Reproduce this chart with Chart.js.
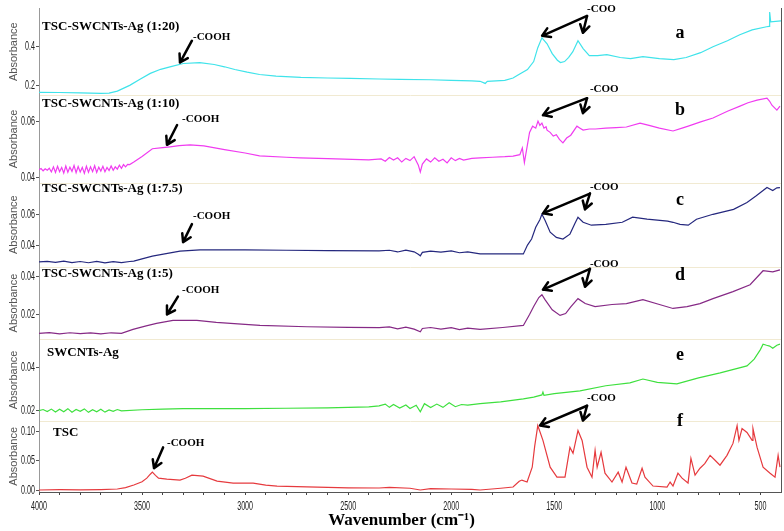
<!DOCTYPE html>
<html>
<head>
<meta charset="utf-8">
<script src="https://cdn.jsdelivr.net/npm/chart.js@4.4.0/dist/chart.umd.min.js"></script>
<style>
  html, body { margin: 0; padding: 0; background: #fff; }
  #wrap { width: 784px; height: 531px; }
</style>
</head>
<body>
<div id="wrap"><canvas id="myChart"></canvas></div>
<script>
// wavenumber (cm-1), absorbance pairs
var specA = [[4000,0.164],[3900,0.163],[3800,0.161],[3700,0.159],[3660,0.160],[3620,0.170],[3560,0.200],[3510,0.232],[3460,0.262],[3410,0.283],[3360,0.297],[3300,0.313],[3220,0.318],[3150,0.308],[3100,0.296],[3050,0.282],[2990,0.268],[2930,0.256],[2850,0.248],[2730,0.241],[2600,0.238],[2490,0.236],[2350,0.233],[2250,0.231],[2100,0.229],[2000,0.226],[1900,0.223],[1860,0.221],[1835,0.210],[1825,0.221],[1740,0.226],[1700,0.238],[1680,0.251],[1630,0.282],[1600,0.323],[1580,0.395],[1560,0.446],[1535,0.415],[1510,0.364],[1485,0.330],[1470,0.318],[1450,0.323],[1430,0.345],[1410,0.374],[1385,0.431],[1360,0.390],[1330,0.354],[1290,0.354],[1245,0.359],[1180,0.344],[1130,0.338],[1070,0.349],[990,0.338],[920,0.333],[860,0.344],[790,0.369],[730,0.400],[660,0.431],[600,0.462],[540,0.487],[470,0.503],[458,0.505],[455,0.579],[450,0.528],[400,0.533]];

var specB = [[4000,0.0428],[3990,0.0432],[3980,0.0424],[3970,0.0431],[3960,0.0426],[3950,0.0433],[3940,0.0420],[3930,0.0438],[3920,0.0418],[3910,0.0440],[3900,0.0421],[3890,0.0436],[3880,0.0416],[3870,0.0441],[3860,0.0419],[3850,0.0437],[3840,0.0422],[3830,0.0443],[3820,0.0417],[3810,0.0439],[3800,0.0420],[3790,0.0436],[3780,0.0415],[3770,0.0440],[3760,0.0419],[3750,0.0438],[3740,0.0421],[3730,0.0442],[3720,0.0418],[3710,0.0437],[3700,0.0423],[3690,0.0440],[3680,0.0421],[3670,0.0436],[3660,0.0425],[3650,0.0441],[3640,0.0426],[3630,0.0438],[3620,0.0430],[3610,0.0444],[3600,0.0433],[3590,0.0446],[3580,0.0438],[3570,0.0447],[3560,0.0446],[3540,0.0455],[3500,0.0475],[3450,0.0502],[3400,0.0506],[3364,0.0509],[3320,0.0513],[3267,0.0516],[3200,0.0512],[3100,0.0499],[3000,0.0487],[2930,0.0477],[2800,0.0472],[2734,0.0470],[2600,0.0467],[2400,0.0463],[2340,0.0466],[2320,0.0458],[2300,0.0471],[2280,0.0462],[2260,0.0470],[2240,0.0455],[2220,0.0468],[2200,0.0460],[2180,0.0474],[2160,0.0445],[2150,0.0420],[2140,0.0448],[2120,0.0466],[2100,0.0455],[2080,0.0470],[2060,0.0458],[2040,0.0465],[2020,0.0452],[2000,0.0470],[1980,0.0460],[1960,0.0468],[1940,0.0462],[1900,0.0468],[1860,0.0470],[1800,0.0472],[1740,0.0474],[1700,0.0476],[1667,0.0481],[1655,0.0505],[1645,0.0453],[1620,0.0560],[1605,0.0582],[1590,0.0575],[1579,0.0600],[1570,0.0585],[1560,0.0593],[1550,0.0575],[1540,0.0580],[1535,0.0568],[1520,0.0560],[1505,0.0547],[1490,0.0552],[1475,0.0535],[1458,0.0523],[1440,0.0540],[1420,0.0550],[1390,0.0582],[1375,0.0575],[1360,0.0568],[1330,0.0572],[1300,0.0572],[1250,0.0575],[1200,0.0577],[1150,0.0579],[1084,0.0593],[1040,0.0585],[990,0.0575],[924,0.0565],[880,0.0575],[850,0.0582],[790,0.0597],[730,0.0611],[660,0.0635],[599,0.0653],[560,0.0665],[516,0.0674],[468,0.0681],[455,0.0670],[444,0.0656],[420,0.0639],[405,0.0653]];

var specC = [[4000,0.0290],[3960,0.0294],[3920,0.0287],[3880,0.0295],[3840,0.0286],[3800,0.0293],[3760,0.0285],[3720,0.0294],[3680,0.0284],[3640,0.0292],[3600,0.0286],[3560,0.0293],[3540,0.0295],[3500,0.0310],[3450,0.0328],[3390,0.0342],[3316,0.0361],[3219,0.0368],[3000,0.0368],[2800,0.0366],[2600,0.0364],[2350,0.0362],[2300,0.0366],[2260,0.0355],[2220,0.0367],[2180,0.0356],[2160,0.0340],[2150,0.0330],[2140,0.0352],[2100,0.0360],[2050,0.0354],[2000,0.0362],[1960,0.0350],[1920,0.0356],[1860,0.0342],[1800,0.0342],[1700,0.0342],[1650,0.0342],[1630,0.0400],[1610,0.0439],[1590,0.0516],[1570,0.0565],[1560,0.0600],[1545,0.0561],[1520,0.0484],[1490,0.0450],[1458,0.0439],[1424,0.0471],[1400,0.0540],[1385,0.0581],[1360,0.0548],[1320,0.0529],[1250,0.0535],[1170,0.0548],[1120,0.0581],[1050,0.0568],[950,0.0555],[924,0.0548],[890,0.0535],[850,0.0529],[810,0.0568],[730,0.0600],[630,0.0632],[565,0.0677],[520,0.0720],[468,0.0774],[440,0.0755],[420,0.0772],[405,0.0774]];

var specD = [[4000,0.0100],[3950,0.0104],[3900,0.0097],[3850,0.0103],[3800,0.0098],[3750,0.0102],[3700,0.0097],[3650,0.0103],[3600,0.0100],[3544,0.0121],[3480,0.0140],[3430,0.0153],[3350,0.0169],[3234,0.0169],[3140,0.0158],[3000,0.0148],[2928,0.0142],[2700,0.0135],[2500,0.0132],[2350,0.0130],[2300,0.0134],[2260,0.0124],[2220,0.0133],[2180,0.0122],[2150,0.0108],[2140,0.0126],[2100,0.0131],[2050,0.0122],[2000,0.0130],[1960,0.0120],[1920,0.0128],[1860,0.0121],[1750,0.0131],[1650,0.0142],[1620,0.0200],[1600,0.0242],[1575,0.0290],[1560,0.0305],[1545,0.0279],[1510,0.0225],[1472,0.0195],[1445,0.0205],[1420,0.0240],[1385,0.0284],[1350,0.0258],[1302,0.0242],[1220,0.0253],[1150,0.0258],[1070,0.0279],[990,0.0253],[924,0.0232],[856,0.0242],[793,0.0258],[730,0.0284],[633,0.0321],[550,0.0358],[487,0.0432],[440,0.0426],[405,0.0437]];

var specE = [[4000,0.0200],[3980,0.0205],[3960,0.0196],[3940,0.0207],[3920,0.0194],[3900,0.0206],[3880,0.0195],[3860,0.0209],[3840,0.0193],[3820,0.0205],[3800,0.0197],[3780,0.0208],[3760,0.0192],[3740,0.0204],[3720,0.0195],[3700,0.0206],[3680,0.0193],[3660,0.0203],[3640,0.0197],[3620,0.0205],[3600,0.0199],[3500,0.0204],[3400,0.0207],[3300,0.0209],[3000,0.0209],[2800,0.0211],[2600,0.0213],[2400,0.0217],[2350,0.0222],[2320,0.0230],[2300,0.0215],[2280,0.0228],[2250,0.0212],[2220,0.0226],[2200,0.0210],[2170,0.0225],[2150,0.0195],[2130,0.0232],[2100,0.0214],[2070,0.0230],[2040,0.0215],[2010,0.0236],[1980,0.0218],[1950,0.0228],[1920,0.0225],[1860,0.0232],[1760,0.0240],[1650,0.0254],[1600,0.0262],[1560,0.0272],[1555,0.0285],[1550,0.0270],[1500,0.0278],[1375,0.0291],[1250,0.0314],[1133,0.0327],[1070,0.0345],[1000,0.0330],[905,0.0323],[800,0.0350],[695,0.0373],[565,0.0405],[530,0.0436],[500,0.0480],[487,0.0505],[470,0.0500],[455,0.0496],[440,0.0486],[420,0.0500],[405,0.0505]];

var specF = [[4000,0.0000],[3900,0.0005],[3800,0.0003],[3700,0.0008],[3620,0.0017],[3580,0.0040],[3540,0.0085],[3500,0.0140],[3477,0.0203],[3460,0.0270],[3450,0.0305],[3435,0.0250],[3420,0.0203],[3380,0.0185],[3316,0.0170],[3290,0.0200],[3258,0.0254],[3204,0.0237],[3136,0.0153],[3058,0.0119],[2961,0.0119],[2900,0.0085],[2845,0.0068],[2700,0.0055],[2600,0.0045],[2500,0.0038],[2350,0.0034],[2300,0.0045],[2200,0.0030],[2150,0.0000],[2100,0.0025],[2000,0.0017],[1900,0.0010],[1860,0.0000],[1760,0.0030],[1700,0.0051],[1670,0.0150],[1657,0.0170],[1632,0.0136],[1607,0.0390],[1595,0.0750],[1580,0.1102],[1555,0.0848],[1520,0.0390],[1487,0.0220],[1448,0.0220],[1424,0.0729],[1409,0.0627],[1385,0.1017],[1365,0.0848],[1341,0.0390],[1317,0.0220],[1302,0.0678],[1292,0.0390],[1273,0.0644],[1254,0.0288],[1220,0.0136],[1190,0.0305],[1171,0.0136],[1152,0.0390],[1123,0.0119],[1100,0.0100],[1074,0.0373],[1060,0.0220],[1021,0.0068],[953,0.0051],[938,0.0136],[924,0.0068],[900,0.0288],[880,0.0203],[851,0.0119],[837,0.0542],[817,0.0254],[793,0.0373],[770,0.0450],[744,0.0593],[720,0.0509],[696,0.0424],[662,0.0593],[633,0.0797],[613,0.1102],[604,0.0848],[589,0.1051],[565,0.0983],[540,0.0848],[536,0.1051],[516,0.0729],[487,0.0390],[453,0.0288],[429,0.0220],[414,0.0593],[405,0.0390]];

var seriesNames = ['TSC-SWCNTs-Ag (1:20)', 'TSC-SWCNTs-Ag (1:10)', 'TSC-SWCNTs-Ag (1:7.5)', 'TSC-SWCNTs-Ag (1:5)', 'SWCNTs-Ag', 'TSC'];
var seriesLetters = ['a', 'b', 'c', 'd', 'e', 'f'];
var seriesColors = ['#3fe3ea', '#f03cf0', '#25287e', '#862a86', '#3ee03e', '#e63a3e'];
var xTickLabels = [4000, 3500, 3000, 2500, 2000, 1500, 1000, 500];
var yTicks = [[0.2, 0.4], [0.04, 0.06], [0.04, 0.06], [0.02, 0.04], [0.02, 0.04], [0.00, 0.05, 0.10]];
var yDecimals = [1, 2, 2, 2, 2, 2];
var yRanges = [[0.1487, 0.600], [0.03824, 0.06913], [0.02581, 0.08064], [0.00686, 0.04526], [0.01543, 0.05274], [-0.0034, 0.1187]];
var panelHeights = [88, 88, 85, 73, 82, 72];

// annotations in (wavenumber, panel value) coordinates
var notes = [
  {name: [3985, 0.503], letter: [890, 0.4667], cooh: [3253, 0.4513], coohArrow: [[3258, 0.4308], [3316, 0.318]],
   coo: [1341, 0.5949], cooArrows: [[1341, 0.559], [1559, 0.4564], [1361, 0.4718]]},
  {name: [3985, 0.06632], letter: [890, 0.06386], cooh: [3306, 0.0607], coohArrow: [[3330, 0.0586], [3379, 0.0516]],
   coo: [1327, 0.0712], cooArrows: [[1341, 0.0681], [1555, 0.0621], [1361, 0.0628]]},
  {name: [3985, 0.07677], letter: [890, 0.06903], cooh: [3253, 0.0587], coohArrow: [[3258, 0.0536], [3301, 0.0419]],
   coo: [1327, 0.0774], cooArrows: [[1327, 0.0735], [1555, 0.0606], [1351, 0.0632]]},
  {name: [3985, 0.04158], letter: [890, 0.04053], cooh: [3306, 0.03316], coohArrow: [[3326, 0.0295], [3379, 0.0200]],
   coo: [1327, 0.0468], cooArrows: [[1327, 0.0442], [1555, 0.0332], [1351, 0.0347]]},
  {name: [3961, 0.04683], letter: [890, 0.04546]},
  {name: [3932, 0.0983], letter: [890, 0.1170], cooh: [3379, 0.0797], coohArrow: [[3398, 0.0729], [3442, 0.0373]],
   coo: [1341, 0.1576], cooArrows: [[1341, 0.1441], [1569, 0.1102], [1361, 0.1187]]}
];

var axisIds = ['yA', 'yB', 'yC', 'yD', 'yE', 'yF'];
var serifBold = "'Liberation Serif', 'Times New Roman', serif";
var sansFont = "'Liberation Sans', Arial, sans-serif";

function toPoints(spec) {
  var pts = [];
  for (var i = 0; i < spec.length; i++) {
    pts.push({x: spec[i][0], y: spec[i][1]});
  }
  return pts;
}

var specs = [specA, specB, specC, specD, specE, specF];
var datasets = [];
for (var i = 0; i < specs.length; i++) {
  datasets.push({
    label: seriesNames[i],
    data: toPoints(specs[i]),
    yAxisID: axisIds[i],
    borderColor: seriesColors[i],
    borderWidth: 1.2,
    pointRadius: 0,
    tension: 0
  });
}

// tick labels are drawn squeezed (see narrowTicks plugin), so the built-in ones are hidden
var scales = {
  x: {
    type: 'linear',
    position: 'bottom',
    min: 400,
    max: 4000,
    reverse: true,
    afterBuildTicks: function (scale) {
      var t = [];
      for (var v = 500; v <= 4000; v += 100) t.push({value: v});
      scale.ticks = t;
    },
    afterFit: function (scale) { scale.height = 39; },
    ticks: {
      autoSkip: false,
      maxRotation: 0,
      padding: 3,
      color: 'rgba(0,0,0,0)',
      font: {family: sansFont, size: 10},
      callback: function (v) { return xTickLabels.indexOf(v) >= 0 ? String(v) : ''; }
    },
    grid: {drawOnChartArea: false, tickLength: 3, color: '#444'},
    border: {color: '#555'},
    title: {
      display: true,
      text: 'Wavenumber (cm\u207B\u00B9)    ',
      color: '#000',
      font: {family: serifBold, size: 17, weight: 'bold'},
      padding: {top: 0, bottom: 0}
    }
  }
};

for (var i = 0; i < axisIds.length; i++) {
  (function (k) {
    scales[axisIds[k]] = {
      type: 'linear',
      position: 'left',
      stack: 'panels',
      stackWeight: panelHeights[k],
      weight: 10 - k,
      min: yRanges[k][0],
      max: yRanges[k][1],
      afterBuildTicks: function (scale) {
        scale.ticks = yTicks[k].map(function (v) { return {value: v}; });
      },
      afterFit: function (scale) { scale.width = 39; },
      ticks: {
        padding: 2,
        color: 'rgba(0,0,0,0)',
        font: {family: sansFont, size: 10},
        callback: function (v) { return Number(v).toFixed(yDecimals[k]); }
      },
      grid: {drawOnChartArea: false, tickLength: 3, color: '#555'},
      border: {color: '#999'},
      title: {
        display: true,
        text: 'Absorbance',
        color: '#555',
        font: {family: sansFont, size: 11},
        padding: {top: 7, bottom: 0}
      }
    };
  })(i);
}

function drawArrow(ctx, x1, y1, x2, y2) {
  var ang = Math.atan2(y2 - y1, x2 - x1);
  var len = 9;
  ctx.beginPath();
  ctx.moveTo(x1, y1);
  ctx.lineTo(x2, y2);
  ctx.moveTo(x2 - len * Math.cos(ang - 0.55), y2 - len * Math.sin(ang - 0.55));
  ctx.lineTo(x2, y2);
  ctx.lineTo(x2 - len * Math.cos(ang + 0.55), y2 - len * Math.sin(ang + 0.55));
  ctx.stroke();
}

function narrowText(ctx, text, x, y, align, sx) {
  ctx.save();
  ctx.translate(x, y);
  ctx.scale(sx, 1);
  ctx.textAlign = align;
  ctx.fillText(text, 0, 0);
  ctx.restore();
}

const narrowTicks = {
  id: 'narrowTicks',
  afterDraw: function (chart) {
    var ctx = chart.ctx;
    ctx.save();
    ctx.fillStyle = '#222';
    ctx.textBaseline = 'middle';
    ctx.font = '13px ' + sansFont;
    for (var i = 0; i < axisIds.length; i++) {
      var ys = chart.scales[axisIds[i]];
      for (var j = 0; j < yTicks[i].length; j++) {
        var py = ys.getPixelForValue(yTicks[i][j]);
        narrowText(ctx, yTicks[i][j].toFixed(yDecimals[i]), ys.right - 4, py, 'right', 0.55);
      }
    }
    var xs = chart.scales.x;
    for (var k = 0; k < xTickLabels.length; k++) {
      narrowText(ctx, String(xTickLabels[k]), xs.getPixelForValue(xTickLabels[k]), xs.top + 14, 'center', 0.55);
    }
    ctx.restore();
  }
};

const notesPlugin = {
  id: 'notes',
  beforeDatasetsDraw: function (chart) {
    var ctx = chart.ctx;
    var area = chart.chartArea;
    ctx.save();
    ctx.strokeStyle = '#f1ead2';
    ctx.lineWidth = 1;
    for (var i = 1; i < axisIds.length; i++) {
      var top = Math.round(chart.scales[axisIds[i]].top) + 0.5;
      ctx.beginPath();
      ctx.moveTo(area.left + 1, top);
      ctx.lineTo(area.right, top);
      ctx.stroke();
    }
    ctx.strokeStyle = '#555';
    ctx.beginPath();
    ctx.moveTo(Math.round(area.right) + 0.5, area.top);
    ctx.lineTo(Math.round(area.right) + 0.5, area.bottom);
    ctx.stroke();
    ctx.restore();
  },
  afterDatasetsDraw: function (chart) {
    var ctx = chart.ctx;
    var xs = chart.scales.x;
    ctx.save();
    for (var i = 0; i < notes.length; i++) {
      var ys = chart.scales[axisIds[i]];
      var n = notes[i];
      var px = function (p) { return [xs.getPixelForValue(p[0]), ys.getPixelForValue(p[1])]; };
      ctx.fillStyle = '#000';
      ctx.textBaseline = 'middle';
      ctx.textAlign = 'left';
      ctx.font = 'bold 13px ' + serifBold;
      var p = px(n.name);
      ctx.fillText(seriesNames[i], p[0], p[1]);
      ctx.textAlign = 'center';
      ctx.font = 'bold 18px ' + serifBold;
      p = px(n.letter);
      ctx.fillText(seriesLetters[i], p[0], p[1]);
      ctx.strokeStyle = '#000';
      ctx.lineWidth = 2.5;
      ctx.lineCap = 'round';
      ctx.lineJoin = 'round';
      ctx.textAlign = 'left';
      ctx.font = 'bold 11px ' + serifBold;
      if (n.cooh) {
        p = px(n.cooh);
        ctx.fillText('-COOH', p[0], p[1]);
        var a = px(n.coohArrow[0]), b = px(n.coohArrow[1]);
        drawArrow(ctx, a[0], a[1], b[0], b[1]);
      }
      if (n.coo) {
        p = px(n.coo);
        ctx.fillText('-COO', p[0], p[1]);
        var s = px(n.cooArrows[0]);
        var t1 = px(n.cooArrows[1]);
        var t2 = px(n.cooArrows[2]);
        drawArrow(ctx, s[0], s[1], t1[0], t1[1]);
        drawArrow(ctx, s[0], s[1], t2[0], t2[1]);
      }
    }
    ctx.restore();
  }
};

const config = {
  type: 'line',
  data: {datasets: datasets},
  options: {
    responsive: true,
    maintainAspectRatio: false,
    animation: false,
    devicePixelRatio: 1,
    layout: {padding: {top: 4, right: 3, left: 0, bottom: 0}},
    plugins: {legend: {display: false}, tooltip: {enabled: false}},
    scales: scales
  },
  plugins: [notesPlugin, narrowTicks]
};

const myChart = new Chart(document.getElementById('myChart'), config);
</script>
</body>
</html>
